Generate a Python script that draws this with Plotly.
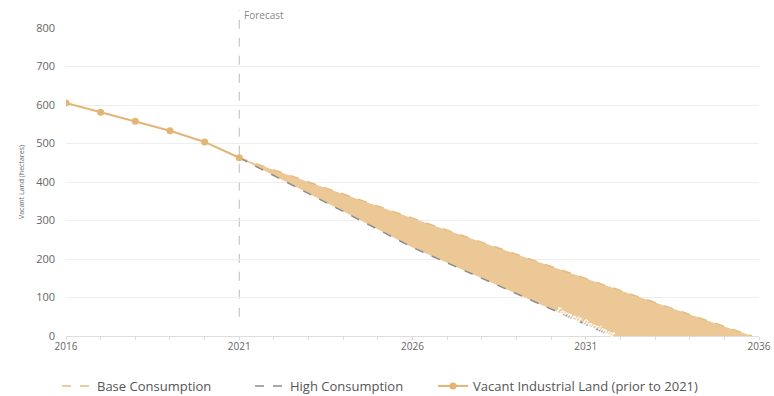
import plotly.graph_objects as go

# Historic vacant industrial land
hist_years = [2016, 2017, 2018, 2019, 2020, 2021]
hist_values = [605, 581, 558, 533, 504, 463]

# Base consumption forecast
base_years = [2021, 2022, 2023, 2024, 2025, 2026, 2027, 2028, 2029, 2030, 2031, 2032, 2033, 2034, 2035, 2035.8]
base_values = [463, 432, 400, 369, 338, 306, 275, 244, 212, 181, 150, 118, 87, 56, 24, 0]

# High consumption forecast
high_years = [2021, 2022, 2023, 2024, 2025, 2026, 2027, 2028, 2029, 2030, 2031, 2031.75]
high_values = [463, 417, 370, 323, 277, 230, 190, 150, 110, 70, 30, 0]

x_ticks = [2016, 2021, 2026, 2031, 2036]
y_ticks = [0, 100, 200, 300, 400, 500, 600, 700, 800]

tan = "#E3B574"
base_line = "#E6BC80"
fill_tan = "#EBC895"
gray = "#8C8C8C"
text_gray = "#666666"
font_family = "Open Sans, Lato, sans-serif"

W, H = 774, 396

fig = go.Figure()

# Shaded band between the two forecasts
fig.add_trace(go.Scatter(
    x=high_years, y=high_values, mode="lines", showlegend=False,
    line=dict(width=0), hoverinfo="skip",
))
fig.add_trace(go.Scatter(
    x=base_years, y=base_values, mode="lines", showlegend=False,
    line=dict(width=0), fill="tonexty", fillcolor=fill_tan, hoverinfo="skip",
))

fig.add_trace(go.Scatter(
    x=base_years, y=base_values, mode="lines", name="Base Consumption",
    line=dict(color=base_line, width=1.5, dash="dash"), legend="legend",
))
fig.add_trace(go.Scatter(
    x=high_years, y=high_values, mode="lines", name="High Consumption",
    line=dict(color=gray, width=1.5, dash="dash"), legend="legend2",
))
fig.add_trace(go.Scatter(
    x=hist_years, y=hist_values, mode="lines+markers",
    name="Vacant Industrial Land (prior to 2021)",
    line=dict(color=tan, width=2), marker=dict(color=tan, size=7),
    legend="legend3",
))

# Forecast divider
fig.add_shape(type="line", x0=2021, x1=2021, y0=50 / 800, y1=1.058, xref="x", yref="paper",
              line=dict(color="#BBBBBB", width=1, dash="dash"), layer="below")
fig.add_annotation(x=2021, y=1.042, xref="x", yref="paper", text="Forecast",
                   showarrow=False, xanchor="left", yanchor="middle", xshift=3,
                   font=dict(family=font_family, size=10, color="#888888"))
fig.add_annotation(x=2031.0, y=38, text="<i><b>Tarneit Derrimut</b></i>", showarrow=False,
                   textangle=24, font=dict(family=font_family, size=8, color="white"))

leg_common = dict(orientation="h", xref="container", yref="container", y=10 / H,
                  yanchor="middle", xanchor="left", bgcolor="rgba(0,0,0,0)",
                  font=dict(size=13, color="#555555"), itemwidth=30)

fig.update_layout(
    width=W, height=H,
    margin=dict(l=66, r=15, t=28, b=60, autoexpand=False),
    paper_bgcolor="white", plot_bgcolor="white",
    font=dict(family=font_family, color=text_gray),
    showlegend=True,
    legend=dict(x=57 / W, **leg_common),
    legend2=dict(x=250 / W, **leg_common),
    legend3=dict(x=433 / W, **leg_common),
    xaxis=dict(range=[2016, 2036], tickmode="array", tickvals=x_ticks,
               ticktext=[str(t) for t in x_ticks], showgrid=False, zeroline=False,
               showline=False, ticks="", automargin=False, ticklabelstandoff=3,
               tickfont=dict(size=10, color=text_gray),
               minor=dict(dtick=1, ticks="outside", ticklen=3, tickcolor="#DDDDDD")),
    yaxis=dict(range=[0, 800], tickmode="array", tickvals=y_ticks,
               showgrid=True, gridcolor="#EEEEEE", gridwidth=1, zeroline=True,
               zerolinecolor="#DDDDDD", zerolinewidth=1, showline=False,
               automargin=False,
               tickfont=dict(size=11, color=text_gray), ticklabelstandoff=10,
               title=dict(text="Vacant Land (hectares)", font=dict(size=7, color=text_gray),
                          standoff=10)),
)

# remove the browser's default body margin so the figure fills the window exactly
fig.write_html("out.html", config={"displayModeBar": False},
               post_script="document.body.style.margin='0';document.body.style.overflow='hidden';")
